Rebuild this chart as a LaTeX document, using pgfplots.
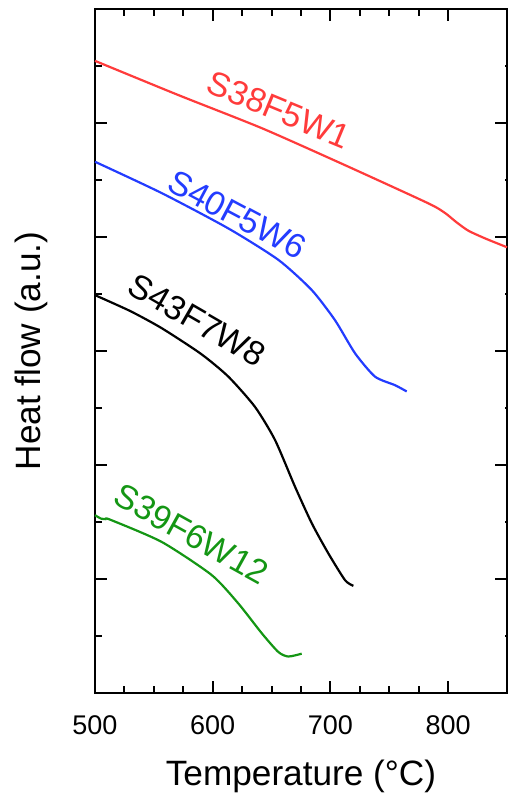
\documentclass[border=0pt]{standalone}
\usepackage{fontspec}
\setmainfont{Liberation Sans}
\setsansfont{Liberation Sans}
\usepackage{pgfplots}
\pgfplotsset{compat=1.18}
\definecolor{dscred}{RGB}{255,59,59}
\definecolor{dscblue}{RGB}{35,60,255}
\definecolor{dscgreen}{RGB}{20,150,20}
\newcommand\lblfont{\fontsize{17pt}{20pt}\selectfont}
\pgfplotsset{dscframe/.style={
  at={(0pt,0pt)}, anchor=south west,
  scale only axis, width=206pt, height=342pt,
  xmin=500, xmax=850, ymin=0, ymax=12,
  ytick={2,4,6,8,10}, minor ytick={1,3,5,7,9,11}, yticklabels={},
  tick align=inside,
  axis line style={line width=1.2pt},
  every tick/.style={line width=1pt, black},
}}
\begin{document}
\begin{tikzpicture}
\path[use as bounding box] (-47.5pt,-54.5pt) rectangle (210pt,346.5pt);
% right-hand ticks: long majors, dot-like minors
\begin{axis}[dscframe,
  hide x axis, axis y line*=right,
  major tick length=6pt, minor tick length=1.2pt,
]
\end{axis}
\begin{axis}[dscframe,
  ytick pos=left,
  xtick={500,600,700,800}, minor x tick num=3,
  major tick length=6pt, minor tick length=3.5pt,
  /pgf/number format/assume math mode=true,
  tick label style={font=\fontsize{13.5pt}{16pt}\selectfont},
  xticklabel style={inner sep=0pt, anchor=north, yshift=-11pt},
  xlabel={Temperature (°C)},
  ylabel={Heat flow (a.u.)},
  label style={font=\fontsize{17.6pt}{21pt}\selectfont},
  xlabel style={at={(axis description cs:0.5,0)}, anchor=north, inner sep=0pt, yshift=-33.5pt},
  ylabel style={at={(axis description cs:-0.114,0.5)}, anchor=south, inner sep=0pt},
  every axis plot/.append style={line width=1.1pt, no marks, smooth, tension=0.4},
  clip=false,
]
% S38F5W1
\addplot[dscred] coordinates {
(500,11.09) (570.8,10.49) (641.6,9.91) (712.4,9.26) (783.2,8.59)
(797.4,8.42) (807,8.26) (817.2,8.11) (832,7.97) (850,7.82)};
% S40F5W6
\addplot[dscblue] coordinates {
(500,9.32) (556.7,8.77) (613.3,8.15) (655.7,7.60) (684.1,7.07)
(703.9,6.54) (720.9,5.96) (737.9,5.55) (754.9,5.40) (764.8,5.29)};
% S43F7W8
\addplot[black] coordinates {
(500,6.98) (530,6.70) (556.7,6.40) (590,5.95) (613.3,5.55) (635.9,5.02) (652.9,4.44)
(669.9,3.62) (684.1,2.98) (698.2,2.45) (712.4,1.98) (719.5,1.88)};
% S39F6W12
\addplot[dscgreen] coordinates {
(500,3.12) (505,3.06) (509,3.05) (513,3.04) (556.7,2.65) (599.1,2.07)
(621.8,1.57) (641.6,1.05) (655.7,0.72) (664.2,0.64) (675.6,0.69)};
\node[dscred, rotate=-22.5, font=\lblfont] at (axis cs:656.3,10.23) {S38F5W1};
\node[dscblue, rotate=-28, font=\lblfont] at (axis cs:621.0,8.39) {S40F5W6};
\node[black, rotate=-30, font=\lblfont] at (axis cs:586.7,6.54) {S43F7W8};
\node[dscgreen, rotate=-29, font=\lblfont] at (axis cs:581.9,2.79) {S39F6W12};
\end{axis}
\end{tikzpicture}
\end{document}
